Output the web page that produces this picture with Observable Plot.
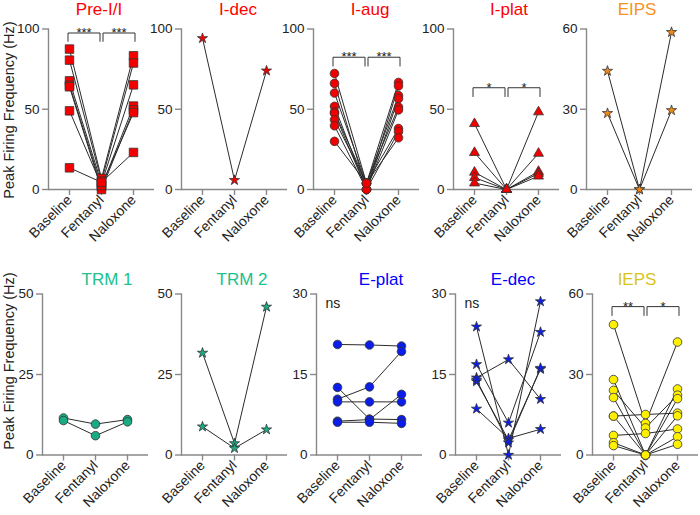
<!DOCTYPE html>
<html><head><meta charset="utf-8">
<script src="https://cdn.jsdelivr.net/npm/d3@7"></script>
<script src="https://cdn.jsdelivr.net/npm/@observablehq/plot@0.6"></script>
<style>
body{margin:0;background:#fff;font-family:"Liberation Sans",Arial,sans-serif;}
#chart{position:relative;width:700px;height:515px;overflow:hidden;background:#fff;}
#chart svg{position:absolute;}
.ttl{position:absolute;font-size:17px;transform:translateX(-50%);white-space:nowrap;line-height:1;}
.ylab{position:absolute;font-size:14.5px;white-space:nowrap;transform:translate(-50%,-50%) rotate(-90deg);color:#222;line-height:1;}
</style></head><body><div id="chart"></div>
<script>
const conds = ["Baseline", "Fentanyl", "Naloxone"];
const yLabel = "Peak Firing Frequency (Hz)";

// Pre-I/I
const preII_baseline = [87.5, 80.6, 67.7, 65.0, 64.0, 49.0, 13.5];
const preII_fentanyl = [6.9, 5.2, 3.7, 1.7, 0.0, 2.5, 4.5];
const preII_naloxone = [83.3, 78.8, 65.2, 52.0, 49.6, 47.9, 23.1];
const preII_sig = ["***", "***"];
const preII_sigLevels = [97.5, 92.3];
// I-dec
const idec_baseline = [94.2];
const idec_fentanyl = [5.8];
const idec_naloxone = [74.0];
// I-aug
const iaug_baseline = [72.3, 66.1, 60.1, 51.8, 48.3, 47.5, 43.4, 39.7, 30.0];
const iaug_fentanyl = [3.9, 0.0, 3.9, 0.0, 3.9, 0.0, 3.9, 0.0, 3.9];
const iaug_naloxone = [66.7, 64.5, 58.5, 56.6, 51.4, 49.6, 38.0, 36.0, 32.2];
const iaug_sig = ["***", "***"];
const iaug_sigLevels = [82.4, 76.9];
// I-plat
const iplat_baseline = [41.0, 23.0, 10.7, 7.4, 4.0];
const iplat_fentanyl = [0, 0, 0, 0, 0];
const iplat_naloxone = [48.3, 22.5, 11.2, 10.0, 8.3];
const iplat_sig = ["*", "*"];
const iplat_sigLevels = [63.4, 57.9];
// EIPS
const eips_baseline = [44.3, 28.5];
const eips_fentanyl = [0, 0];
const eips_naloxone = [58.8, 29.6];
// TRM 1
const trm1_baseline = [11.5, 10.7];
const trm1_fentanyl = [9.6, 6.0];
const trm1_naloxone = [11.0, 10.3];
// TRM 2
const trm2_baseline = [31.7, 8.8];
const trm2_fentanyl = [3.6, 2.1];
const trm2_naloxone = [46.0, 7.9];
// E-plat
const eplat_baseline = [20.6, 12.6, 10.4, 9.9, 6.3, 6.1];
const eplat_fentanyl = [20.5, 6.7, 12.7, 9.9, 6.6, 6.1];
const eplat_naloxone = [20.3, 6.6, 19.3, 9.9, 11.3, 5.9];
// E-dec
const edec_baseline = [23.9, 16.9, 14.4, 13.7, 8.6, 14.0];
const edec_fentanyl = [0.0, 6.0, 17.8, 2.8, 3.1, 2.3];
const edec_naloxone = [28.6, 22.9, 10.4, 16.0, 4.8, 16.2];
// IEPS
const ieps_baseline = [48.6, 28.1, 24.1, 21.4, 14.5, 14.5, 7.3, 4.6, 3.5];
const ieps_fentanyl = [11.8, 0.0, 10.1, 0.0, 15.1, 0.0, 8.0, 0.0, 0.0];
const ieps_naloxone = [42.1, 24.6, 22.3, 21.0, 15.6, 14.6, 9.7, 6.8, 4.0];
const ieps_sig = ["**", "*"];
const ieps_sigLevels = [55.3, 52.0];

const panels = [
  {title: "Pre-I/I", tc: "#ff0000", fill: "#f20000", symbol: "square", r: 4.8, yMax: 100, ticks: [0, 50, 100], d: [preII_baseline, preII_fentanyl, preII_naloxone], sig: preII_sig, lv: preII_sigLevels, row: 0, ax: 48, tx: 99},
  {title: "I-dec", tc: "#ff0000", fill: "#f20000", symbol: "star", r: 3.2, yMax: 100, ticks: [0, 50, 100], d: [idec_baseline, idec_fentanyl, idec_naloxone], row: 0, ax: 181, tx: 238},
  {title: "I-aug", tc: "#ff0000", fill: "#f20000", symbol: "circle", r: 4.3, yMax: 100, ticks: [0, 50, 100], d: [iaug_baseline, iaug_fentanyl, iaug_naloxone], sig: iaug_sig, lv: iaug_sigLevels, row: 0, ax: 313, tx: 370},
  {title: "I-plat", tc: "#ff0000", fill: "#f20000", symbol: "triangle", r: 3.7, yMax: 100, ticks: [0, 50, 100], d: [iplat_baseline, iplat_fentanyl, iplat_naloxone], sig: iplat_sig, lv: iplat_sigLevels, row: 0, ax: 453, tx: 509},
  {title: "EIPS", tc: "#f7931e", fill: "#f08a16", symbol: "star", r: 3.2, yMax: 60, ticks: [0, 30, 60], d: [eips_baseline, eips_fentanyl, eips_naloxone], row: 0, ax: 586, tx: 637},
  {title: "TRM 1", tc: "#20c08d", fill: "#1aab85", symbol: "circle", r: 4.3, yMax: 50, ticks: [0, 25, 50], d: [trm1_baseline, trm1_fentanyl, trm1_naloxone], row: 1, ax: 42, tx: 107},
  {title: "TRM 2", tc: "#20c08d", fill: "#1aab85", symbol: "star", r: 3.2, yMax: 50, ticks: [0, 25, 50], d: [trm2_baseline, trm2_fentanyl, trm2_naloxone], row: 1, ax: 181, tx: 242},
  {title: "E-plat", tc: "#0000ff", fill: "#0a1ee8", symbol: "circle", r: 4.3, yMax: 30, ticks: [0, 15, 30], d: [eplat_baseline, eplat_fentanyl, eplat_naloxone], ns: true, row: 1, ax: 316, tx: 381},
  {title: "E-dec", tc: "#0000ff", fill: "#0a1ee8", symbol: "star", r: 3.2, yMax: 30, ticks: [0, 15, 30], d: [edec_baseline, edec_fentanyl, edec_naloxone], ns: true, row: 1, ax: 455, tx: 513},
  {title: "IEPS", tc: "#d9c51a", fill: "#fff000", symbol: "circle", r: 4.3, yMax: 60, ticks: [0, 30, 60], d: [ieps_baseline, ieps_fentanyl, ieps_naloxone], sig: ieps_sig, lv: ieps_sigLevels, row: 1, ax: 592, tx: 637}
];

const rows = [
  {top: 0, height: 257, mt: 28.5, mb: 68, titleTop: 1, labelY: 110},
  {top: 257, height: 258, mt: 36.5, mb: 60.5, titleTop: 271, labelY: 361}
];

function tidy(b, f, n) {
  const out = [];
  b.forEach((_, i) => {
    out.push({cell: i, cond: conds[0], value: b[i]});
    out.push({cell: i, cond: conds[1], value: f[i]});
    out.push({cell: i, cond: conds[2], value: n[i]});
  });
  return out;
}

function bracketMarks(sig, lv) {
  if (!sig) return [];
  const pairs = [[conds[0], conds[1], -1.5], [conds[1], conds[2], 1.5]];
  const marks = [];
  pairs.forEach(([a, b, d], i) => {
    const pts = [{x: a, y: lv[1]}, {x: a, y: lv[0]}, {x: b, y: lv[0]}, {x: b, y: lv[1]}];
    marks.push(Plot.line(pts, {x: "x", y: "y", stroke: "#333", strokeWidth: 1, dx: d}));
    marks.push(Plot.text([{x: a, y: lv[0], t: sig[i]}], {x: "x", y: "y", text: "t", dx: 16 + d, dy: 4, fontSize: 13, lineAnchor: "bottom", fill: "#222"}));
  });
  return marks;
}

const chart = document.getElementById("chart");
const axisColor = "#888888";
const W = 157, ML = 45, MR = 6;

panels.forEach(p => {
  const row = rows[p.row];
  const data = tidy(...p.d);
  const svg = Plot.plot({
    width: W, height: row.height,
    marginLeft: ML, marginRight: MR, marginTop: row.mt, marginBottom: row.mb,
    style: {background: "transparent", overflow: "visible", fontFamily: "'Liberation Sans', Arial, sans-serif", color: "#222"},
    x: {type: "point", domain: conds, padding: 0.656},
    y: {domain: [0, p.yMax]},
    marks: [
      Plot.ruleY([0], {stroke: axisColor, strokeWidth: 1.4}),
      Plot.frame({anchor: "left", stroke: axisColor, strokeWidth: 1.4}),
      Plot.axisY({ticks: p.ticks, tickSize: 6, tickPadding: 3, fontSize: 13.5, stroke: axisColor, strokeWidth: 1.4, fill: "#222", label: null}),
      Plot.axisX({tickRotate: -45, tickSize: 6, tickPadding: 2, fontSize: 14, stroke: axisColor, strokeWidth: 1.4, fill: "#222", label: null}),
      ...bracketMarks(p.sig, p.lv),
      p.ns ? Plot.text(["ns"], {frameAnchor: "top-left", dx: 9, dy: 4, fontSize: 14, textAnchor: "start", lineAnchor: "top", fill: "#222"}) : null,
      Plot.line(data, {x: "cond", y: "value", z: "cell", stroke: "#2b2b2b", strokeWidth: 1}),
      Plot.dot(data, {x: "cond", y: "value", symbol: p.symbol, r: p.r, fill: p.fill, stroke: "#333", strokeWidth: 0.8})
    ]
  });
  svg.style.left = (p.ax - ML) + "px";
  svg.style.top = row.top + "px";
  chart.appendChild(svg);
  const t = document.createElement("div");
  t.className = "ttl";
  t.textContent = p.title;
  t.style.color = p.tc;
  t.style.left = p.tx + "px";
  t.style.top = row.titleTop + "px";
  chart.appendChild(t);
});

rows.forEach(row => {
  const l = document.createElement("div");
  l.className = "ylab";
  l.textContent = yLabel;
  l.style.left = "9px";
  l.style.top = row.labelY + "px";
  chart.appendChild(l);
});
</script></body></html>
